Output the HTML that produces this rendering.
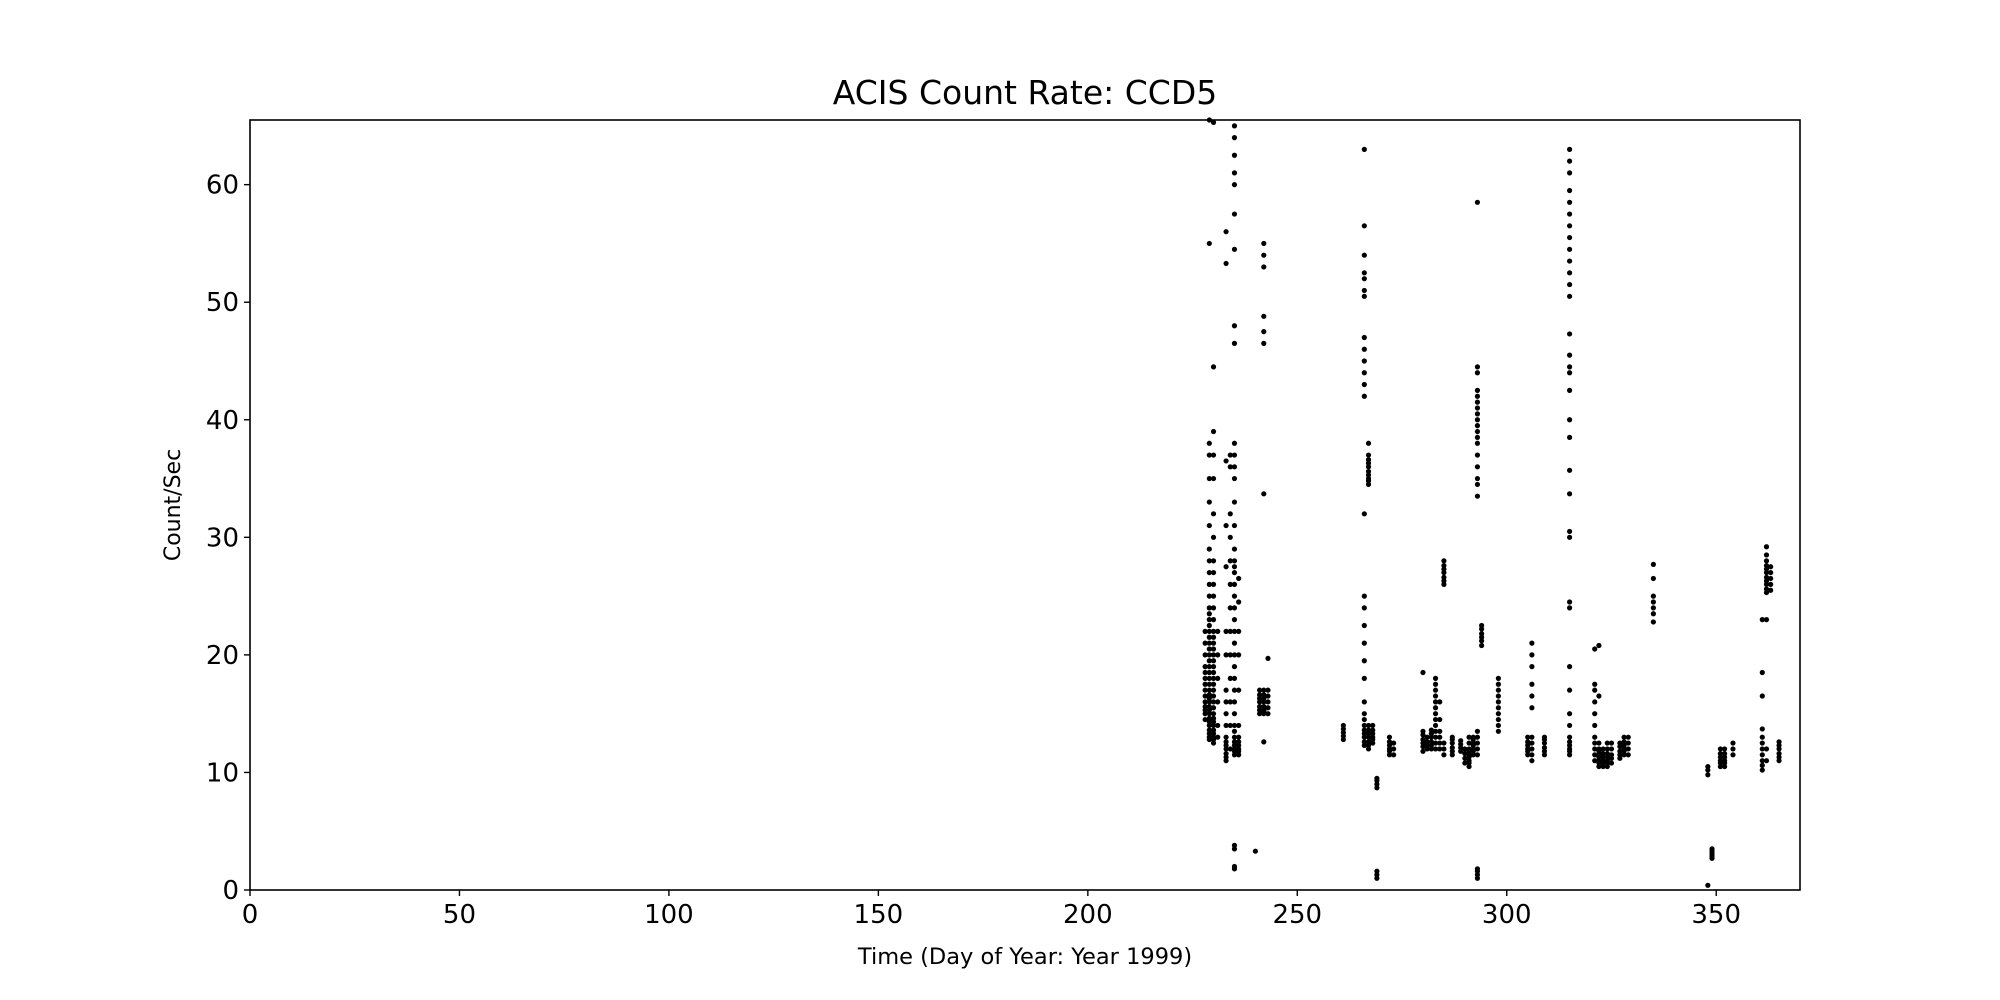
<!DOCTYPE html>
<html><head><meta charset="utf-8"><style>
html,body{margin:0;padding:0;background:#fff;}
svg{display:block;font-family:"DejaVu Sans","Liberation Sans",sans-serif;}
</style></head><body>
<svg id="chart" width="2000" height="1000" viewBox="0 0 2000 1000" xmlns="http://www.w3.org/2000/svg">
<rect width="2000" height="1000" fill="#fff"/>
<text x="1025" y="104" font-size="33" text-anchor="middle">ACIS Count Rate: CCD5</text>
<g id="ticks"></g>
<g id="points"></g>
<rect x="250" y="120" width="1550" height="770" fill="none" stroke="#000" stroke-width="1.6"/>
<text x="1025" y="964" font-size="22.5" text-anchor="middle">Time (Day of Year: Year 1999)</text>
<text transform="translate(180,505) rotate(-90)" font-size="22" text-anchor="middle">Count/Sec</text>
</svg>
<script>
const xTicks = [0,50,100,150,200,250,300,350];
const yTicks = [0,10,20,30,40,50,60];
const clusterDays = [228,229,230,231,233,234,235,236,240,241,242,243,261,266,267,268,269,272,273,280,281,282,283,284,285,287,289,290,291,292,293,294,298,305,306,309,315,321,322,323,324,325,327,328,329,335,348,349,351,352,354,361,362,363,365];
const clusterRates = [
[14.5,15,15.3,15.6,16,16.5,17,17.5,18,18.5,19,20,21,22],
[12.8,13,13.3,13.6,14,14.3,14.6,15,15.3,15.6,16,16.3,16.6,17,17.5,18,18.5,19,19.5,20,20.5,21,21.5,22,22.5,23,23.5,24,25,26,27,28,29,31,33,35,37,38,55,65.5],
[12.5,12.8,13,13.3,13.6,14,14.3,14.6,15,15.5,16,16.5,17,17.5,18,18.5,19,19.5,20,20.5,21,21.5,22,23,24,25,26,27,28,30,32,35,37,39,44.5,65.3],
[13,14,16,18,20,22],
[11,11.3,11.6,12,12.3,12.6,13,14,15,16,17,20,22,27.5,31,36.5,53.3,56],
[12,14,16,18,20,22,24,26,28,30,32,36,37],
[11.5,11.8,12,12.3,12.6,13,13.5,14,15,16,17,18,19,20,21,22,23,24,25,26,27,27.5,28,29,31,33,35,36,37,38,46.5,48,54.5,57.5,60,61,62.5,64,65,3.5,3.8,2,1.8],
[11.5,11.8,12,12.3,12.6,13,14,17,20,22,24.5,26.5],
[3.3],
[15,15.3,15.6,16,16.3,16.6,17],
[15,15.3,15.6,16,16.3,16.6,17,15.2,12.6,33.7,46.5,47.5,48.8,53,54,55],
[15,15.5,16,16.5,17,19.7],
[12.8,13.1,13.4,13.7,14],
[12.3,12.6,13,13.3,13.6,14,14.5,15,16,18,19.5,21,22.5,24,25,32,42,43,44,45,46,47,50.5,51,52,52.5,54,56.5,63],
[12,12.3,12.6,13,13.3,13.6,14,34.5,34.8,35,35.3,35.6,36,36.3,36.6,37,38],
[12.5,12.8,13,13.3,13.6,14],
[8.7,9,9.3,9.5,1,1.3,1.6],
[11.5,11.8,12,12.3,12.6,13],
[11.5,12,12.5],
[11.8,12.2,12.5,12.8,13.2,13.5,18.5],
[12,12.3,12.6,13],
[12,12.3,12.6,13,13.3,13.6],
[12,12.5,13,13.5,14,14.5,15,15.5,16,16.5,17,17.5,18],
[12,12.5,13,13.5,14.5,16],
[26,26.3,26.6,27,27.3,27.6,28,11.5,12,12.5],
[11.5,11.8,12.1,12.5,12.8,13],
[11.8,12.1,12.4,12.7],
[10.8,11.2,11.6,12],
[10.5,10.8,11,11.3,11.5,11.8,12,12.5,13],
[11.5,11.8,12,12.3,12.5,12.8,13],
[11.5,12,12.5,13,13.5,1,1.3,1.6,1.8,33.5,34.5,35,36,37,38,38.5,39,39.5,40,40.5,41,41.5,42,42.5,44,44.5,58.5],
[20.8,21.2,21.5,21.8,22.2,22.5],
[13.5,14,14.5,15,15.5,16,16.5,17,17.5,18],
[11.5,11.8,12,12.3,12.6,13],
[11,11.5,12,12.5,13,15.5,16.5,17.5,19,20,21],
[11.5,11.8,12.1,12.5,12.8,13],
[11.5,11.8,12,12.3,12.6,13,14,15,17,19,24,24.5,30,30.5,33.7,35.7,38.5,40,42.5,44,44.5,45.5,47.3,50.5,51.5,52.5,53.5,54.5,55.5,56.5,57.5,58.5,59.5,61,62,63],
[11,11.5,12,12.5,13,14,15,16,17,17.5,20.5],
[10.5,10.8,11,11.3,11.5,11.8,12,12.5,16.5,20.8],
[10.5,10.8,11,11.3,11.6,12],
[10.5,10.8,11,11.3,11.6,12,12.5],
[10.8,11.2,11.5,12,12.5],
[11.2,11.5,11.8,12.2,12.5],
[11.5,11.8,12,12.3,12.6,13],
[11.5,12,12.5,13],
[22.8,23.5,24,24.5,25,26.5,27.7],
[0.4,9.8,10.2,10.5],
[2.7,2.9,3.1,3.3,3.5],
[10.5,10.8,11,11.3,11.6,12],
[10.5,10.8,11,11.3,11.6,12],
[11.5,12,12.5],
[10.2,10.6,11,11.5,12,12.5,13,13.7,16.5,18.5,23],
[25.3,25.6,26,26.3,26.6,27,27.3,27.6,28,28.5,29.2,23,11,12],
[25.5,26,26.5,27,27.5],
[11,11.3,11.6,12,12.3,12.6]
];
const X0=250, X1=1800, Y0=890, Y1=120, XMAX=370, YMAX=65.5;
function xs(v){return X0+(v/XMAX)*(X1-X0);}
function ys(v){return Y0-(v/YMAX)*(Y0-Y1);}
const NS="http://www.w3.org/2000/svg";
const tg=document.getElementById('ticks');
xTicks.forEach(t=>{
  const l=document.createElementNS(NS,'line');
  l.setAttribute('x1',xs(t));l.setAttribute('x2',xs(t));l.setAttribute('y1',Y0);l.setAttribute('y2',Y0+6);
  l.setAttribute('stroke','#000');l.setAttribute('stroke-width','1.4');
  
  
  tg.appendChild(l);
  const tx=document.createElementNS(NS,'text');
  tx.setAttribute('x',xs(t));tx.setAttribute('y',Y0+33);tx.setAttribute('font-size','26');tx.setAttribute('text-anchor','middle');
  tx.textContent=t;
  
  
  tg.appendChild(tx);
});
yTicks.forEach(t=>{
  const l=document.createElementNS(NS,'line');
  l.setAttribute('x1',X0-6);l.setAttribute('x2',X0);l.setAttribute('y1',ys(t));l.setAttribute('y2',ys(t));
  l.setAttribute('stroke','#000');l.setAttribute('stroke-width','1.4');
  
  
  tg.appendChild(l);
  const tx=document.createElementNS(NS,'text');
  tx.setAttribute('x',X0-11);tx.setAttribute('y',ys(t)+9);tx.setAttribute('font-size','26');tx.setAttribute('text-anchor','end');
  tx.textContent=t;
  
  
  tg.appendChild(tx);
});
const pg=document.getElementById('points');
clusterDays.forEach((d,i)=>{
  clusterRates[i].forEach(v=>{
    const c=document.createElementNS(NS,'circle');
    c.setAttribute('cx',xs(d));c.setAttribute('cy',ys(v));c.setAttribute('r','2.6');c.setAttribute('fill','#000');
    
    
    pg.appendChild(c);
  });
});
</script>
</body></html>
